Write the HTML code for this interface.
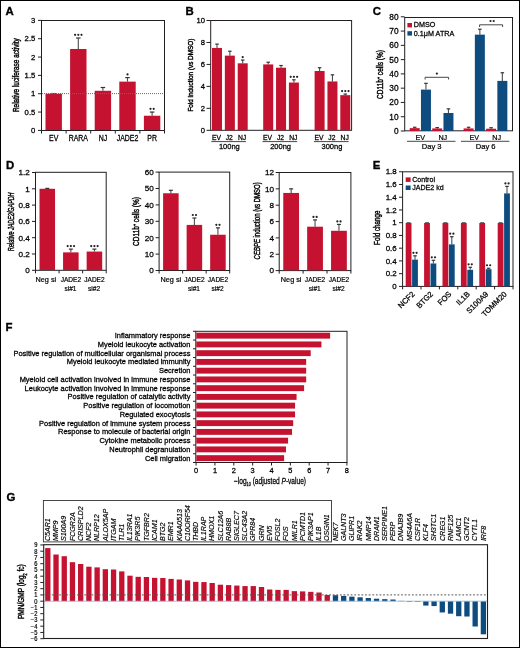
<!DOCTYPE html>
<html><head><meta charset="utf-8"><style>
html,body{margin:0;padding:0;background:#fff;}
svg{display:block;will-change:transform;}
text{font-family:"Liberation Sans",sans-serif;}
</style></head><body>
<svg width="520" height="648" viewBox="0 0 520 648">
<rect x="0" y="0" width="520" height="648" fill="#fff"/>
<text transform="translate(5.6,15)" text-anchor="start" style="font-size:11.4px;font-weight:bold;" fill="#000" stroke="#000" stroke-width="0.35">A</text>
<text transform="translate(185.6,15.1)" text-anchor="start" style="font-size:11.4px;font-weight:bold;" fill="#000" stroke="#000" stroke-width="0.35">B</text>
<text transform="translate(372.8,15)" text-anchor="start" style="font-size:11.4px;font-weight:bold;" fill="#000" stroke="#000" stroke-width="0.35">C</text>
<text transform="translate(5.9,168.7)" text-anchor="start" style="font-size:11.4px;font-weight:bold;" fill="#000" stroke="#000" stroke-width="0.35">D</text>
<text transform="translate(372.8,168.6)" text-anchor="start" style="font-size:11.4px;font-weight:bold;" fill="#000" stroke="#000" stroke-width="0.35">E</text>
<text transform="translate(5.6,330.8)" text-anchor="start" style="font-size:11.4px;font-weight:bold;" fill="#000" stroke="#000" stroke-width="0.35">F</text>
<text transform="translate(6.5,501.2)" text-anchor="start" style="font-size:11.4px;font-weight:bold;" fill="#000" stroke="#000" stroke-width="0.35">G</text>
<line x1="51.2" y1="93.43" x2="56.2" y2="93.43" stroke="#4d4d4d" stroke-width="1" />
<rect x="45.5" y="93.73" width="16.4" height="36.67" fill="#c41230" />
<text transform="translate(53.7,140.6) scale(0.85,1)" text-anchor="middle" style="font-size:8.2px;" fill="#000" stroke="#000" stroke-width="0.26">EV</text>
<line x1="78.3" y1="48.99" x2="78.3" y2="37.99" stroke="#4d4d4d" stroke-width="1.1" />
<line x1="76.05" y1="37.99" x2="80.55" y2="37.99" stroke="#333" stroke-width="1.2" />
<rect x="70.1" y="48.99" width="16.4" height="81.41" fill="#c41230" />
<text transform="translate(78.3,140.6) scale(0.85,1)" text-anchor="middle" style="font-size:8.2px;" fill="#000" stroke="#000" stroke-width="0.26">RARA</text>
<circle cx="75.1" cy="34.79" r="1.1" fill="#231f20"/>
<circle cx="78.3" cy="34.79" r="1.1" fill="#231f20"/>
<circle cx="81.5" cy="34.79" r="1.1" fill="#231f20"/>
<line x1="102.9" y1="90.8" x2="102.9" y2="87.5" stroke="#4d4d4d" stroke-width="1.1" />
<line x1="100.65" y1="87.5" x2="105.15" y2="87.5" stroke="#333" stroke-width="1.2" />
<rect x="94.7" y="90.8" width="16.4" height="39.6" fill="#c41230" />
<text transform="translate(102.9,140.6) scale(0.85,1)" text-anchor="middle" style="font-size:8.2px;" fill="#000" stroke="#000" stroke-width="0.26">NJ</text>
<line x1="127.5" y1="81.63" x2="127.5" y2="77.6" stroke="#4d4d4d" stroke-width="1.1" />
<line x1="125.25" y1="77.6" x2="129.75" y2="77.6" stroke="#333" stroke-width="1.2" />
<rect x="119.3" y="81.63" width="16.4" height="48.77" fill="#c41230" />
<text transform="translate(127.5,140.6) scale(0.85,1)" text-anchor="middle" style="font-size:8.2px;" fill="#000" stroke="#000" stroke-width="0.26">JADE2</text>
<circle cx="127.5" cy="74.4" r="1.1" fill="#231f20"/>
<line x1="152.1" y1="115.73" x2="152.1" y2="112.06" stroke="#4d4d4d" stroke-width="1.1" />
<line x1="149.85" y1="112.06" x2="154.35" y2="112.06" stroke="#333" stroke-width="1.2" />
<rect x="143.9" y="115.73" width="16.4" height="14.67" fill="#c41230" />
<text transform="translate(152.1,140.6) scale(0.85,1)" text-anchor="middle" style="font-size:8.2px;" fill="#000" stroke="#000" stroke-width="0.26">PR</text>
<circle cx="150.5" cy="108.86" r="1.1" fill="#231f20"/>
<circle cx="153.7" cy="108.86" r="1.1" fill="#231f20"/>
<line x1="42" y1="93.6" x2="164" y2="93.6" stroke="#6a6a6a" stroke-width="1" stroke-dasharray="1,1"/>
<rect x="41.5" y="20.5" width="123.0" height="110.0" fill="none" stroke="#231f20" stroke-width="1"/>
<line x1="38" y1="130.4" x2="41.5" y2="130.4" stroke="#231f20" stroke-width="1" />
<text transform="translate(35.3,133.1)" text-anchor="end" style="font-size:7.7px;" fill="#000" stroke="#000" stroke-width="0.26">0</text>
<line x1="38" y1="112.06" x2="41.5" y2="112.06" stroke="#231f20" stroke-width="1" />
<text transform="translate(35.3,114.77)" text-anchor="end" style="font-size:7.7px;" fill="#000" stroke="#000" stroke-width="0.26">0.5</text>
<line x1="38" y1="93.73" x2="41.5" y2="93.73" stroke="#231f20" stroke-width="1" />
<text transform="translate(35.3,96.43)" text-anchor="end" style="font-size:7.7px;" fill="#000" stroke="#000" stroke-width="0.26">1</text>
<line x1="38" y1="75.4" x2="41.5" y2="75.4" stroke="#231f20" stroke-width="1" />
<text transform="translate(35.3,78.1)" text-anchor="end" style="font-size:7.7px;" fill="#000" stroke="#000" stroke-width="0.26">1.5</text>
<line x1="38" y1="57.06" x2="41.5" y2="57.06" stroke="#231f20" stroke-width="1" />
<text transform="translate(35.3,59.76)" text-anchor="end" style="font-size:7.7px;" fill="#000" stroke="#000" stroke-width="0.26">2</text>
<line x1="38" y1="38.72" x2="41.5" y2="38.72" stroke="#231f20" stroke-width="1" />
<text transform="translate(35.3,41.42)" text-anchor="end" style="font-size:7.7px;" fill="#000" stroke="#000" stroke-width="0.26">2.5</text>
<line x1="38" y1="20.39" x2="41.5" y2="20.39" stroke="#231f20" stroke-width="1" />
<text transform="translate(35.3,23.09)" text-anchor="end" style="font-size:7.7px;" fill="#000" stroke="#000" stroke-width="0.26">3</text>
<line x1="41.5" y1="130.5" x2="41.5" y2="133.5" stroke="#231f20" stroke-width="1" />
<line x1="66.1" y1="130.5" x2="66.1" y2="133.5" stroke="#231f20" stroke-width="1" />
<line x1="90.7" y1="130.5" x2="90.7" y2="133.5" stroke="#231f20" stroke-width="1" />
<line x1="115.3" y1="130.5" x2="115.3" y2="133.5" stroke="#231f20" stroke-width="1" />
<line x1="139.9" y1="130.5" x2="139.9" y2="133.5" stroke="#231f20" stroke-width="1" />
<line x1="164.5" y1="130.5" x2="164.5" y2="133.5" stroke="#231f20" stroke-width="1" />
<text transform="translate(18.6,75.15) rotate(-90)" text-anchor="middle" style="font-size:8.2px;" fill="#000" textLength="73.8" lengthAdjust="spacingAndGlyphs" stroke="#000" stroke-width="0.42">Relative luciferase activity</text>
<rect x="210.7" y="20.5" width="140.9" height="109.8" fill="none" stroke="#231f20" stroke-width="1"/>
<line x1="217" y1="47.95" x2="217" y2="44.11" stroke="#4d4d4d" stroke-width="1.1" />
<line x1="215.25" y1="44.11" x2="218.75" y2="44.11" stroke="#333" stroke-width="1.2" />
<rect x="212" y="47.95" width="10" height="82.35" fill="#c41230" />
<line x1="229.85" y1="55.64" x2="229.85" y2="51.24" stroke="#4d4d4d" stroke-width="1.1" />
<line x1="228.1" y1="51.24" x2="231.6" y2="51.24" stroke="#333" stroke-width="1.2" />
<rect x="224.85" y="55.64" width="10" height="74.66" fill="#c41230" />
<line x1="242.7" y1="63.32" x2="242.7" y2="60.03" stroke="#4d4d4d" stroke-width="1.1" />
<line x1="240.95" y1="60.03" x2="244.45" y2="60.03" stroke="#333" stroke-width="1.2" />
<rect x="237.7" y="63.32" width="10" height="66.98" fill="#c41230" />
<circle cx="242.7" cy="57.03" r="1.1" fill="#231f20"/>
<text transform="translate(216.4,140.1) scale(0.95,1)" text-anchor="middle" style="font-size:7.1px;" fill="#000" stroke="#000" stroke-width="0.26">EV</text>
<text transform="translate(229.25,140.1) scale(0.95,1)" text-anchor="middle" style="font-size:7.1px;" fill="#000" stroke="#000" stroke-width="0.26">J2</text>
<text transform="translate(242.1,140.1) scale(0.95,1)" text-anchor="middle" style="font-size:7.1px;" fill="#000" stroke="#000" stroke-width="0.26">NJ</text>
<line x1="211.3" y1="141.6" x2="246" y2="141.6" stroke="#333" stroke-width="0.9" />
<text transform="translate(229.35,148.8)" text-anchor="middle" style="font-size:7.5px;" fill="#000" stroke="#000" stroke-width="0.26">100ng</text>
<line x1="268.2" y1="64.42" x2="268.2" y2="62.22" stroke="#4d4d4d" stroke-width="1.1" />
<line x1="266.45" y1="62.22" x2="269.95" y2="62.22" stroke="#333" stroke-width="1.2" />
<rect x="263.2" y="64.42" width="10" height="65.88" fill="#c41230" />
<line x1="281.05" y1="67.71" x2="281.05" y2="65.52" stroke="#4d4d4d" stroke-width="1.1" />
<line x1="279.3" y1="65.52" x2="282.8" y2="65.52" stroke="#333" stroke-width="1.2" />
<rect x="276.05" y="67.71" width="10" height="62.59" fill="#c41230" />
<line x1="293.9" y1="82.54" x2="293.9" y2="79.79" stroke="#4d4d4d" stroke-width="1.1" />
<line x1="292.15" y1="79.79" x2="295.65" y2="79.79" stroke="#333" stroke-width="1.2" />
<rect x="288.9" y="82.54" width="10" height="47.76" fill="#c41230" />
<circle cx="290.7" cy="76.79" r="1.1" fill="#231f20"/>
<circle cx="293.9" cy="76.79" r="1.1" fill="#231f20"/>
<circle cx="297.1" cy="76.79" r="1.1" fill="#231f20"/>
<text transform="translate(267.6,140.1) scale(0.95,1)" text-anchor="middle" style="font-size:7.1px;" fill="#000" stroke="#000" stroke-width="0.26">EV</text>
<text transform="translate(280.45,140.1) scale(0.95,1)" text-anchor="middle" style="font-size:7.1px;" fill="#000" stroke="#000" stroke-width="0.26">J2</text>
<text transform="translate(293.3,140.1) scale(0.95,1)" text-anchor="middle" style="font-size:7.1px;" fill="#000" stroke="#000" stroke-width="0.26">NJ</text>
<line x1="262.5" y1="141.6" x2="297.2" y2="141.6" stroke="#333" stroke-width="0.9" />
<text transform="translate(280.55,148.8)" text-anchor="middle" style="font-size:7.5px;" fill="#000" stroke="#000" stroke-width="0.26">200ng</text>
<line x1="319.6" y1="71.01" x2="319.6" y2="67.71" stroke="#4d4d4d" stroke-width="1.1" />
<line x1="317.85" y1="67.71" x2="321.35" y2="67.71" stroke="#333" stroke-width="1.2" />
<rect x="314.6" y="71.01" width="10" height="59.29" fill="#c41230" />
<line x1="332.45" y1="81.44" x2="332.45" y2="74.85" stroke="#4d4d4d" stroke-width="1.1" />
<line x1="330.7" y1="74.85" x2="334.2" y2="74.85" stroke="#333" stroke-width="1.2" />
<rect x="327.45" y="81.44" width="10" height="48.86" fill="#c41230" />
<line x1="345.3" y1="95.16" x2="345.3" y2="94.07" stroke="#4d4d4d" stroke-width="1.1" />
<line x1="343.55" y1="94.07" x2="347.05" y2="94.07" stroke="#333" stroke-width="1.2" />
<rect x="340.3" y="95.16" width="10" height="35.14" fill="#c41230" />
<circle cx="342.1" cy="91.07" r="1.1" fill="#231f20"/>
<circle cx="345.3" cy="91.07" r="1.1" fill="#231f20"/>
<circle cx="348.5" cy="91.07" r="1.1" fill="#231f20"/>
<text transform="translate(319,140.1) scale(0.95,1)" text-anchor="middle" style="font-size:7.1px;" fill="#000" stroke="#000" stroke-width="0.26">EV</text>
<text transform="translate(331.85,140.1) scale(0.95,1)" text-anchor="middle" style="font-size:7.1px;" fill="#000" stroke="#000" stroke-width="0.26">J2</text>
<text transform="translate(344.7,140.1) scale(0.95,1)" text-anchor="middle" style="font-size:7.1px;" fill="#000" stroke="#000" stroke-width="0.26">NJ</text>
<line x1="313.9" y1="141.6" x2="348.6" y2="141.6" stroke="#333" stroke-width="0.9" />
<text transform="translate(331.95,148.8)" text-anchor="middle" style="font-size:7.5px;" fill="#000" stroke="#000" stroke-width="0.26">300ng</text>
<line x1="206.5" y1="130.3" x2="210.7" y2="130.3" stroke="#231f20" stroke-width="1" />
<text transform="translate(204.9,132.95)" text-anchor="end" style="font-size:7.6px;" fill="#000" stroke="#000" stroke-width="0.26">0</text>
<line x1="206.5" y1="108.34" x2="210.7" y2="108.34" stroke="#231f20" stroke-width="1" />
<text transform="translate(204.9,110.99)" text-anchor="end" style="font-size:7.6px;" fill="#000" stroke="#000" stroke-width="0.26">2</text>
<line x1="206.5" y1="86.38" x2="210.7" y2="86.38" stroke="#231f20" stroke-width="1" />
<text transform="translate(204.9,89.03)" text-anchor="end" style="font-size:7.6px;" fill="#000" stroke="#000" stroke-width="0.26">4</text>
<line x1="206.5" y1="64.42" x2="210.7" y2="64.42" stroke="#231f20" stroke-width="1" />
<text transform="translate(204.9,67.07)" text-anchor="end" style="font-size:7.6px;" fill="#000" stroke="#000" stroke-width="0.26">6</text>
<line x1="206.5" y1="42.46" x2="210.7" y2="42.46" stroke="#231f20" stroke-width="1" />
<text transform="translate(204.9,45.11)" text-anchor="end" style="font-size:7.6px;" fill="#000" stroke="#000" stroke-width="0.26">8</text>
<line x1="206.5" y1="20.5" x2="210.7" y2="20.5" stroke="#231f20" stroke-width="1" />
<text transform="translate(204.9,23.15)" text-anchor="end" style="font-size:7.6px;" fill="#000" stroke="#000" stroke-width="0.26">10</text>
<text transform="translate(192.9,75.15) rotate(-90)" text-anchor="middle" style="font-size:7.8px;" fill="#000" textLength="72.9" lengthAdjust="spacingAndGlyphs" stroke="#000" stroke-width="0.42">Fold induction (vs DMSO)</text>
<rect x="404.7" y="17.5" width="107.8" height="113.3" fill="none" stroke="#231f20" stroke-width="1"/>
<line x1="414.7" y1="128.15" x2="414.7" y2="127.29" stroke="#4d4d4d" stroke-width="1.1" />
<line x1="412.95" y1="127.29" x2="416.45" y2="127.29" stroke="#333" stroke-width="1.2" />
<rect x="409.7" y="128.15" width="10" height="2.85" fill="#c41230" />
<line x1="425.95" y1="89.6" x2="425.95" y2="83.32" stroke="#4d4d4d" stroke-width="1.1" />
<line x1="424.2" y1="83.32" x2="427.7" y2="83.32" stroke="#333" stroke-width="1.2" />
<rect x="420.95" y="89.6" width="10" height="41.4" fill="#0e4c80" />
<line x1="437.2" y1="128.43" x2="437.2" y2="127.57" stroke="#4d4d4d" stroke-width="1.1" />
<line x1="435.45" y1="127.57" x2="438.95" y2="127.57" stroke="#333" stroke-width="1.2" />
<rect x="432.2" y="128.43" width="10" height="2.57" fill="#c41230" />
<line x1="448.45" y1="113.01" x2="448.45" y2="108.87" stroke="#4d4d4d" stroke-width="1.1" />
<line x1="446.7" y1="108.87" x2="450.2" y2="108.87" stroke="#333" stroke-width="1.2" />
<rect x="443.45" y="113.01" width="10" height="17.99" fill="#0e4c80" />
<text transform="translate(420.3,139.8) scale(0.95,1)" text-anchor="middle" style="font-size:7.6px;" fill="#000" stroke="#000" stroke-width="0.22">EV</text>
<text transform="translate(442.8,139.8) scale(0.95,1)" text-anchor="middle" style="font-size:7.6px;" fill="#000" stroke="#000" stroke-width="0.22">NJ</text>
<line x1="407" y1="141.3" x2="455.5" y2="141.3" stroke="#333" stroke-width="0.9" />
<text transform="translate(431.7,148.5) scale(0.96,1)" text-anchor="middle" style="font-size:7.9px;" fill="#000" stroke="#000" stroke-width="0.22">Day 3</text>
<line x1="468.6" y1="128.43" x2="468.6" y2="127.29" stroke="#4d4d4d" stroke-width="1.1" />
<line x1="466.85" y1="127.29" x2="470.35" y2="127.29" stroke="#333" stroke-width="1.2" />
<rect x="463.6" y="128.43" width="10" height="2.57" fill="#c41230" />
<line x1="479.85" y1="34.64" x2="479.85" y2="29.22" stroke="#4d4d4d" stroke-width="1.1" />
<line x1="478.1" y1="29.22" x2="481.6" y2="29.22" stroke="#333" stroke-width="1.2" />
<rect x="474.85" y="34.64" width="10" height="96.36" fill="#0e4c80" />
<line x1="491.1" y1="128.72" x2="491.1" y2="127.72" stroke="#4d4d4d" stroke-width="1.1" />
<line x1="489.35" y1="127.72" x2="492.85" y2="127.72" stroke="#333" stroke-width="1.2" />
<rect x="486.1" y="128.72" width="10" height="2.28" fill="#c41230" />
<line x1="502.35" y1="80.89" x2="502.35" y2="72.76" stroke="#4d4d4d" stroke-width="1.1" />
<line x1="500.6" y1="72.76" x2="504.1" y2="72.76" stroke="#333" stroke-width="1.2" />
<rect x="497.35" y="80.89" width="10" height="50.11" fill="#0e4c80" />
<text transform="translate(474.2,139.8) scale(0.95,1)" text-anchor="middle" style="font-size:7.6px;" fill="#000" stroke="#000" stroke-width="0.22">EV</text>
<text transform="translate(496.7,139.8) scale(0.95,1)" text-anchor="middle" style="font-size:7.6px;" fill="#000" stroke="#000" stroke-width="0.22">NJ</text>
<line x1="460.9" y1="141.3" x2="509.4" y2="141.3" stroke="#333" stroke-width="0.9" />
<text transform="translate(485.6,148.5) scale(0.96,1)" text-anchor="middle" style="font-size:7.9px;" fill="#000" stroke="#000" stroke-width="0.22">Day 6</text>
<path d="M425.1,79.5 L425.1,77.3 L448.6,77.3 L448.6,79.5" fill="none" stroke="#333" stroke-width="0.9"/>
<circle cx="436.85" cy="73.6" r="1.1" fill="#231f20"/>
<path d="M479.6,27 L479.6,24.8 L502.6,24.8 L502.6,27" fill="none" stroke="#333" stroke-width="0.9"/>
<circle cx="490.5" cy="21" r="1.1" fill="#231f20"/>
<circle cx="493.7" cy="21" r="1.1" fill="#231f20"/>
<line x1="400.8" y1="131" x2="404.7" y2="131" stroke="#231f20" stroke-width="1" />
<text transform="translate(398.6,133.9)" text-anchor="end" style="font-size:8.3px;" fill="#000" stroke="#000" stroke-width="0.26">0</text>
<line x1="400.8" y1="116.72" x2="404.7" y2="116.72" stroke="#231f20" stroke-width="1" />
<text transform="translate(398.6,119.62)" text-anchor="end" style="font-size:8.3px;" fill="#000" stroke="#000" stroke-width="0.26">10</text>
<line x1="400.8" y1="102.45" x2="404.7" y2="102.45" stroke="#231f20" stroke-width="1" />
<text transform="translate(398.6,105.35)" text-anchor="end" style="font-size:8.3px;" fill="#000" stroke="#000" stroke-width="0.26">20</text>
<line x1="400.8" y1="88.17" x2="404.7" y2="88.17" stroke="#231f20" stroke-width="1" />
<text transform="translate(398.6,91.08)" text-anchor="end" style="font-size:8.3px;" fill="#000" stroke="#000" stroke-width="0.26">30</text>
<line x1="400.8" y1="73.9" x2="404.7" y2="73.9" stroke="#231f20" stroke-width="1" />
<text transform="translate(398.6,76.8)" text-anchor="end" style="font-size:8.3px;" fill="#000" stroke="#000" stroke-width="0.26">40</text>
<line x1="400.8" y1="59.62" x2="404.7" y2="59.62" stroke="#231f20" stroke-width="1" />
<text transform="translate(398.6,62.52)" text-anchor="end" style="font-size:8.3px;" fill="#000" stroke="#000" stroke-width="0.26">50</text>
<line x1="400.8" y1="45.35" x2="404.7" y2="45.35" stroke="#231f20" stroke-width="1" />
<text transform="translate(398.6,48.25)" text-anchor="end" style="font-size:8.3px;" fill="#000" stroke="#000" stroke-width="0.26">60</text>
<line x1="400.8" y1="31.08" x2="404.7" y2="31.08" stroke="#231f20" stroke-width="1" />
<text transform="translate(398.6,33.98)" text-anchor="end" style="font-size:8.3px;" fill="#000" stroke="#000" stroke-width="0.26">70</text>
<line x1="400.8" y1="16.8" x2="404.7" y2="16.8" stroke="#231f20" stroke-width="1" />
<text transform="translate(398.6,19.7)" text-anchor="end" style="font-size:8.3px;" fill="#000" stroke="#000" stroke-width="0.26">80</text>
<rect x="407.4" y="23" width="4.6" height="4.4" fill="#c41230" />
<rect x="407.4" y="31.2" width="4.6" height="4.4" fill="#0e4c80" />
<text transform="translate(413.8,27.4) scale(0.95,1)" text-anchor="start" style="font-size:7.6px;" fill="#000" stroke="#000" stroke-width="0.26">DMSO</text>
<text transform="translate(413.8,35.5) scale(0.95,1)" text-anchor="start" style="font-size:7.6px;" fill="#000" stroke="#000" stroke-width="0.26">0.1μM ATRA</text>
<text transform="translate(383.4,74.5) rotate(-90)" text-anchor="middle" style="font-size:9px;" fill="#000" textLength="48.8" lengthAdjust="spacingAndGlyphs" stroke="#000" stroke-width="0.42">CD11b<tspan baseline-shift="super" font-size="5">+</tspan> cells (%)</text>
<rect x="35.5" y="172.3" width="70.7" height="98" fill="none" stroke="#231f20" stroke-width="1"/>
<line x1="47.28" y1="188.8" x2="47.28" y2="188.39" stroke="#4d4d4d" stroke-width="1.1" />
<line x1="45.28" y1="188.39" x2="49.28" y2="188.39" stroke="#333" stroke-width="1.2" />
<rect x="39.51" y="188.8" width="15.55" height="81.2" fill="#c41230" />
<line x1="70.85" y1="252.37" x2="70.85" y2="249.11" stroke="#4d4d4d" stroke-width="1.1" />
<line x1="68.85" y1="249.11" x2="72.85" y2="249.11" stroke="#333" stroke-width="1.2" />
<rect x="63.07" y="252.37" width="15.55" height="17.63" fill="#c41230" />
<circle cx="67.65" cy="246.11" r="1.1" fill="#231f20"/>
<circle cx="70.85" cy="246.11" r="1.1" fill="#231f20"/>
<circle cx="74.05" cy="246.11" r="1.1" fill="#231f20"/>
<line x1="94.42" y1="251.56" x2="94.42" y2="249.11" stroke="#4d4d4d" stroke-width="1.1" />
<line x1="92.42" y1="249.11" x2="96.42" y2="249.11" stroke="#333" stroke-width="1.2" />
<rect x="86.64" y="251.56" width="15.55" height="18.45" fill="#c41230" />
<circle cx="91.22" cy="246.11" r="1.1" fill="#231f20"/>
<circle cx="94.42" cy="246.11" r="1.1" fill="#231f20"/>
<circle cx="97.62" cy="246.11" r="1.1" fill="#231f20"/>
<line x1="32" y1="270.3" x2="35.5" y2="270.3" stroke="#231f20" stroke-width="1" />
<text transform="translate(29.8,273.15)" text-anchor="end" style="font-size:8.1px;" fill="#000" stroke="#000" stroke-width="0.26">0</text>
<line x1="32" y1="254" x2="35.5" y2="254" stroke="#231f20" stroke-width="1" />
<text transform="translate(29.8,256.85)" text-anchor="end" style="font-size:8.1px;" fill="#000" stroke="#000" stroke-width="0.26">0.2</text>
<line x1="32" y1="237.7" x2="35.5" y2="237.7" stroke="#231f20" stroke-width="1" />
<text transform="translate(29.8,240.55)" text-anchor="end" style="font-size:8.1px;" fill="#000" stroke="#000" stroke-width="0.26">0.4</text>
<line x1="32" y1="221.4" x2="35.5" y2="221.4" stroke="#231f20" stroke-width="1" />
<text transform="translate(29.8,224.25)" text-anchor="end" style="font-size:8.1px;" fill="#000" stroke="#000" stroke-width="0.26">0.6</text>
<line x1="32" y1="205.1" x2="35.5" y2="205.1" stroke="#231f20" stroke-width="1" />
<text transform="translate(29.8,207.95)" text-anchor="end" style="font-size:8.1px;" fill="#000" stroke="#000" stroke-width="0.26">0.8</text>
<line x1="32" y1="188.8" x2="35.5" y2="188.8" stroke="#231f20" stroke-width="1" />
<text transform="translate(29.8,191.65)" text-anchor="end" style="font-size:8.1px;" fill="#000" stroke="#000" stroke-width="0.26">1</text>
<line x1="32" y1="172.5" x2="35.5" y2="172.5" stroke="#231f20" stroke-width="1" />
<text transform="translate(29.8,175.35)" text-anchor="end" style="font-size:8.1px;" fill="#000" stroke="#000" stroke-width="0.26">1.2</text>
<line x1="35.5" y1="270.3" x2="35.5" y2="273.3" stroke="#231f20" stroke-width="1" />
<line x1="59.07" y1="270.3" x2="59.07" y2="273.3" stroke="#231f20" stroke-width="1" />
<line x1="82.63" y1="270.3" x2="82.63" y2="273.3" stroke="#231f20" stroke-width="1" />
<line x1="106.2" y1="270.3" x2="106.2" y2="273.3" stroke="#231f20" stroke-width="1" />
<text transform="translate(45.88,282)" text-anchor="middle" style="font-size:6.9px;" fill="#000" textLength="20.6" lengthAdjust="spacingAndGlyphs" stroke="#000" stroke-width="0.2">Neg si</text>
<text transform="translate(70.85,282) scale(0.95,1)" text-anchor="middle" style="font-size:6.9px;" fill="#000" stroke="#000" stroke-width="0.2">JADE2</text>
<text transform="translate(70.45,290.7) scale(0.95,1)" text-anchor="middle" style="font-size:6.9px;" fill="#000" stroke="#000" stroke-width="0.2">si#1</text>
<text transform="translate(94.42,282) scale(0.95,1)" text-anchor="middle" style="font-size:6.9px;" fill="#000" stroke="#000" stroke-width="0.2">JADE2</text>
<text transform="translate(94.02,290.7) scale(0.95,1)" text-anchor="middle" style="font-size:6.9px;" fill="#000" stroke="#000" stroke-width="0.2">si#2</text>
<text transform="translate(13.7,221.7) rotate(-90)" text-anchor="middle" style="font-size:8.8px;" fill="#000" textLength="58.4" lengthAdjust="spacingAndGlyphs" stroke="#000" stroke-width="0.42">Relative <tspan font-style="italic">JADE2/GAPDH</tspan></text>
<rect x="159.1" y="172.1" width="70.6" height="98.4" fill="none" stroke="#231f20" stroke-width="1"/>
<line x1="170.87" y1="193.26" x2="170.87" y2="190.3" stroke="#4d4d4d" stroke-width="1.1" />
<line x1="168.87" y1="190.3" x2="172.87" y2="190.3" stroke="#333" stroke-width="1.2" />
<rect x="163.1" y="193.26" width="15.53" height="76.94" fill="#c41230" />
<line x1="194.4" y1="224.91" x2="194.4" y2="218.02" stroke="#4d4d4d" stroke-width="1.1" />
<line x1="192.4" y1="218.02" x2="196.4" y2="218.02" stroke="#333" stroke-width="1.2" />
<rect x="186.63" y="224.91" width="15.53" height="45.29" fill="#c41230" />
<circle cx="192.8" cy="215.02" r="1.1" fill="#231f20"/>
<circle cx="196" cy="215.02" r="1.1" fill="#231f20"/>
<line x1="217.93" y1="234.75" x2="217.93" y2="227.86" stroke="#4d4d4d" stroke-width="1.1" />
<line x1="215.93" y1="227.86" x2="219.93" y2="227.86" stroke="#333" stroke-width="1.2" />
<rect x="210.17" y="234.75" width="15.53" height="35.45" fill="#c41230" />
<circle cx="216.33" cy="224.86" r="1.1" fill="#231f20"/>
<circle cx="219.53" cy="224.86" r="1.1" fill="#231f20"/>
<line x1="155.6" y1="270.5" x2="159.1" y2="270.5" stroke="#231f20" stroke-width="1" />
<text transform="translate(153.7,273.35)" text-anchor="end" style="font-size:8.1px;" fill="#000" stroke="#000" stroke-width="0.26">0</text>
<line x1="155.6" y1="254.1" x2="159.1" y2="254.1" stroke="#231f20" stroke-width="1" />
<text transform="translate(153.7,256.95)" text-anchor="end" style="font-size:8.1px;" fill="#000" stroke="#000" stroke-width="0.26">10</text>
<line x1="155.6" y1="237.7" x2="159.1" y2="237.7" stroke="#231f20" stroke-width="1" />
<text transform="translate(153.7,240.55)" text-anchor="end" style="font-size:8.1px;" fill="#000" stroke="#000" stroke-width="0.26">20</text>
<line x1="155.6" y1="221.3" x2="159.1" y2="221.3" stroke="#231f20" stroke-width="1" />
<text transform="translate(153.7,224.15)" text-anchor="end" style="font-size:8.1px;" fill="#000" stroke="#000" stroke-width="0.26">30</text>
<line x1="155.6" y1="204.9" x2="159.1" y2="204.9" stroke="#231f20" stroke-width="1" />
<text transform="translate(153.7,207.75)" text-anchor="end" style="font-size:8.1px;" fill="#000" stroke="#000" stroke-width="0.26">40</text>
<line x1="155.6" y1="188.5" x2="159.1" y2="188.5" stroke="#231f20" stroke-width="1" />
<text transform="translate(153.7,191.35)" text-anchor="end" style="font-size:8.1px;" fill="#000" stroke="#000" stroke-width="0.26">50</text>
<line x1="155.6" y1="172.1" x2="159.1" y2="172.1" stroke="#231f20" stroke-width="1" />
<text transform="translate(153.7,174.95)" text-anchor="end" style="font-size:8.1px;" fill="#000" stroke="#000" stroke-width="0.26">60</text>
<line x1="159.1" y1="270.5" x2="159.1" y2="273.5" stroke="#231f20" stroke-width="1" />
<line x1="182.63" y1="270.5" x2="182.63" y2="273.5" stroke="#231f20" stroke-width="1" />
<line x1="206.17" y1="270.5" x2="206.17" y2="273.5" stroke="#231f20" stroke-width="1" />
<line x1="229.7" y1="270.5" x2="229.7" y2="273.5" stroke="#231f20" stroke-width="1" />
<text transform="translate(170.87,282)" text-anchor="middle" style="font-size:6.9px;" fill="#000" textLength="20.6" lengthAdjust="spacingAndGlyphs" stroke="#000" stroke-width="0.2">Neg si</text>
<text transform="translate(194.4,282) scale(0.95,1)" text-anchor="middle" style="font-size:6.9px;" fill="#000" stroke="#000" stroke-width="0.2">JADE2</text>
<text transform="translate(194,290.7) scale(0.95,1)" text-anchor="middle" style="font-size:6.9px;" fill="#000" stroke="#000" stroke-width="0.2">si#1</text>
<text transform="translate(217.93,282) scale(0.95,1)" text-anchor="middle" style="font-size:6.9px;" fill="#000" stroke="#000" stroke-width="0.2">JADE2</text>
<text transform="translate(217.53,290.7) scale(0.95,1)" text-anchor="middle" style="font-size:6.9px;" fill="#000" stroke="#000" stroke-width="0.2">si#2</text>
<text transform="translate(138.9,221.5) rotate(-90)" text-anchor="middle" style="font-size:9px;" fill="#000" textLength="48.8" lengthAdjust="spacingAndGlyphs" stroke="#000" stroke-width="0.42">CD11b<tspan baseline-shift="super" font-size="5">+</tspan> cells (%)</text>
<rect x="279.2" y="172.5" width="71.7" height="98.1" fill="none" stroke="#231f20" stroke-width="1"/>
<line x1="291.15" y1="192.94" x2="291.15" y2="188.85" stroke="#4d4d4d" stroke-width="1.1" />
<line x1="289.15" y1="188.85" x2="293.15" y2="188.85" stroke="#333" stroke-width="1.2" />
<rect x="283.26" y="192.94" width="15.77" height="77.36" fill="#c41230" />
<line x1="315.05" y1="226.7" x2="315.05" y2="219.92" stroke="#4d4d4d" stroke-width="1.1" />
<line x1="313.05" y1="219.92" x2="317.05" y2="219.92" stroke="#333" stroke-width="1.2" />
<rect x="307.16" y="226.7" width="15.77" height="43.6" fill="#c41230" />
<circle cx="313.45" cy="216.92" r="1.1" fill="#231f20"/>
<circle cx="316.65" cy="216.92" r="1.1" fill="#231f20"/>
<line x1="338.95" y1="230.79" x2="338.95" y2="224.41" stroke="#4d4d4d" stroke-width="1.1" />
<line x1="336.95" y1="224.41" x2="340.95" y2="224.41" stroke="#333" stroke-width="1.2" />
<rect x="331.06" y="230.79" width="15.77" height="39.51" fill="#c41230" />
<circle cx="337.35" cy="221.41" r="1.1" fill="#231f20"/>
<circle cx="340.55" cy="221.41" r="1.1" fill="#231f20"/>
<line x1="275.7" y1="270.6" x2="279.2" y2="270.6" stroke="#231f20" stroke-width="1" />
<text transform="translate(274,273.45)" text-anchor="end" style="font-size:8.1px;" fill="#000" stroke="#000" stroke-width="0.26">0</text>
<line x1="275.7" y1="254.25" x2="279.2" y2="254.25" stroke="#231f20" stroke-width="1" />
<text transform="translate(274,257.1)" text-anchor="end" style="font-size:8.1px;" fill="#000" stroke="#000" stroke-width="0.26">2</text>
<line x1="275.7" y1="237.9" x2="279.2" y2="237.9" stroke="#231f20" stroke-width="1" />
<text transform="translate(274,240.75)" text-anchor="end" style="font-size:8.1px;" fill="#000" stroke="#000" stroke-width="0.26">4</text>
<line x1="275.7" y1="221.55" x2="279.2" y2="221.55" stroke="#231f20" stroke-width="1" />
<text transform="translate(274,224.4)" text-anchor="end" style="font-size:8.1px;" fill="#000" stroke="#000" stroke-width="0.26">6</text>
<line x1="275.7" y1="205.2" x2="279.2" y2="205.2" stroke="#231f20" stroke-width="1" />
<text transform="translate(274,208.05)" text-anchor="end" style="font-size:8.1px;" fill="#000" stroke="#000" stroke-width="0.26">8</text>
<line x1="275.7" y1="188.85" x2="279.2" y2="188.85" stroke="#231f20" stroke-width="1" />
<text transform="translate(274,191.7)" text-anchor="end" style="font-size:8.1px;" fill="#000" stroke="#000" stroke-width="0.26">10</text>
<line x1="275.7" y1="172.5" x2="279.2" y2="172.5" stroke="#231f20" stroke-width="1" />
<text transform="translate(274,175.35)" text-anchor="end" style="font-size:8.1px;" fill="#000" stroke="#000" stroke-width="0.26">12</text>
<line x1="279.2" y1="270.6" x2="279.2" y2="273.6" stroke="#231f20" stroke-width="1" />
<line x1="303.1" y1="270.6" x2="303.1" y2="273.6" stroke="#231f20" stroke-width="1" />
<line x1="327" y1="270.6" x2="327" y2="273.6" stroke="#231f20" stroke-width="1" />
<line x1="350.9" y1="270.6" x2="350.9" y2="273.6" stroke="#231f20" stroke-width="1" />
<text transform="translate(291.15,282)" text-anchor="middle" style="font-size:6.9px;" fill="#000" textLength="20.6" lengthAdjust="spacingAndGlyphs" stroke="#000" stroke-width="0.2">Neg si</text>
<text transform="translate(315.05,282) scale(0.95,1)" text-anchor="middle" style="font-size:6.9px;" fill="#000" stroke="#000" stroke-width="0.2">JADE2</text>
<text transform="translate(314.65,290.7) scale(0.95,1)" text-anchor="middle" style="font-size:6.9px;" fill="#000" stroke="#000" stroke-width="0.2">si#1</text>
<text transform="translate(338.95,282) scale(0.95,1)" text-anchor="middle" style="font-size:6.9px;" fill="#000" stroke="#000" stroke-width="0.2">JADE2</text>
<text transform="translate(338.55,290.7) scale(0.95,1)" text-anchor="middle" style="font-size:6.9px;" fill="#000" stroke="#000" stroke-width="0.2">si#2</text>
<text transform="translate(260.2,220.85) rotate(-90)" text-anchor="middle" style="font-size:8.2px;" fill="#000" textLength="77.1" lengthAdjust="spacingAndGlyphs" stroke="#000" stroke-width="0.42"><tspan font-style="italic">CEBPE</tspan> induction (vs DMSO)</text>
<rect x="402.6" y="171.8" width="110.4" height="114.6" fill="none" stroke="#231f20" stroke-width="1"/>
<line x1="406.6" y1="222.7" x2="410.6" y2="222.7" stroke="#4d4d4d" stroke-width="1" />
<rect x="405.7" y="223" width="5.8" height="63.4" fill="#c41230" />
<line x1="415" y1="259.65" x2="415" y2="255.82" stroke="#4d4d4d" stroke-width="1.1" />
<line x1="413.25" y1="255.82" x2="416.75" y2="255.82" stroke="#333" stroke-width="1.2" />
<rect x="412.1" y="259.65" width="5.8" height="26.75" fill="#0e4c80" />
<circle cx="413.4" cy="252.82" r="1.1" fill="#231f20"/>
<circle cx="416.6" cy="252.82" r="1.1" fill="#231f20"/>
<text transform="translate(415.2,294.6) rotate(-45)" text-anchor="end" style="font-size:7.7px;" fill="#000" stroke="#000" stroke-width="0.26">NCF2</text>
<line x1="425" y1="222.7" x2="429" y2="222.7" stroke="#4d4d4d" stroke-width="1" />
<rect x="424.1" y="223" width="5.8" height="63.4" fill="#c41230" />
<line x1="433.4" y1="263.47" x2="433.4" y2="260.28" stroke="#4d4d4d" stroke-width="1.1" />
<line x1="431.65" y1="260.28" x2="435.15" y2="260.28" stroke="#333" stroke-width="1.2" />
<rect x="430.5" y="263.47" width="5.8" height="22.93" fill="#0e4c80" />
<circle cx="431.8" cy="257.28" r="1.1" fill="#231f20"/>
<circle cx="435" cy="257.28" r="1.1" fill="#231f20"/>
<text transform="translate(433.6,294.6) rotate(-45)" text-anchor="end" style="font-size:7.7px;" fill="#000" stroke="#000" stroke-width="0.26">BTG2</text>
<line x1="443.4" y1="222.7" x2="447.4" y2="222.7" stroke="#4d4d4d" stroke-width="1" />
<rect x="442.5" y="223" width="5.8" height="63.4" fill="#c41230" />
<line x1="451.8" y1="244.36" x2="451.8" y2="236.71" stroke="#4d4d4d" stroke-width="1.1" />
<line x1="450.05" y1="236.71" x2="453.55" y2="236.71" stroke="#333" stroke-width="1.2" />
<rect x="448.9" y="244.36" width="5.8" height="42.04" fill="#0e4c80" />
<circle cx="450.2" cy="233.71" r="1.1" fill="#231f20"/>
<circle cx="453.4" cy="233.71" r="1.1" fill="#231f20"/>
<text transform="translate(452,294.6) rotate(-45)" text-anchor="end" style="font-size:7.7px;" fill="#000" stroke="#000" stroke-width="0.26">FOS</text>
<line x1="461.8" y1="222.7" x2="465.8" y2="222.7" stroke="#4d4d4d" stroke-width="1" />
<rect x="460.9" y="223" width="5.8" height="63.4" fill="#c41230" />
<line x1="470.2" y1="269.84" x2="470.2" y2="267.29" stroke="#4d4d4d" stroke-width="1.1" />
<line x1="468.45" y1="267.29" x2="471.95" y2="267.29" stroke="#333" stroke-width="1.2" />
<rect x="467.3" y="269.84" width="5.8" height="16.56" fill="#0e4c80" />
<circle cx="468.6" cy="264.29" r="1.1" fill="#231f20"/>
<circle cx="471.8" cy="264.29" r="1.1" fill="#231f20"/>
<text transform="translate(470.4,294.6) rotate(-45)" text-anchor="end" style="font-size:7.7px;" fill="#000" stroke="#000" stroke-width="0.26">IL1B</text>
<line x1="480.2" y1="222.7" x2="484.2" y2="222.7" stroke="#4d4d4d" stroke-width="1" />
<rect x="479.3" y="223" width="5.8" height="63.4" fill="#c41230" />
<line x1="488.6" y1="269.2" x2="488.6" y2="268.25" stroke="#4d4d4d" stroke-width="1.1" />
<line x1="486.85" y1="268.25" x2="490.35" y2="268.25" stroke="#333" stroke-width="1.2" />
<rect x="485.7" y="269.2" width="5.8" height="17.2" fill="#0e4c80" />
<circle cx="487" cy="265.25" r="1.1" fill="#231f20"/>
<circle cx="490.2" cy="265.25" r="1.1" fill="#231f20"/>
<text transform="translate(488.8,294.6) rotate(-45)" text-anchor="end" style="font-size:7.7px;" fill="#000" stroke="#000" stroke-width="0.26">S100A9</text>
<line x1="498.6" y1="222.7" x2="502.6" y2="222.7" stroke="#4d4d4d" stroke-width="1" />
<rect x="497.7" y="223" width="5.8" height="63.4" fill="#c41230" />
<line x1="507" y1="193.4" x2="507" y2="186.39" stroke="#4d4d4d" stroke-width="1.1" />
<line x1="505.25" y1="186.39" x2="508.75" y2="186.39" stroke="#333" stroke-width="1.2" />
<rect x="504.1" y="193.4" width="5.8" height="93" fill="#0e4c80" />
<circle cx="505.4" cy="183.39" r="1.1" fill="#231f20"/>
<circle cx="508.6" cy="183.39" r="1.1" fill="#231f20"/>
<text transform="translate(507.2,294.6) rotate(-45)" text-anchor="end" style="font-size:7.7px;" fill="#000" stroke="#000" stroke-width="0.26">TOMM20</text>
<line x1="402.6" y1="286.4" x2="402.6" y2="289.4" stroke="#231f20" stroke-width="1" />
<line x1="421" y1="286.4" x2="421" y2="289.4" stroke="#231f20" stroke-width="1" />
<line x1="439.4" y1="286.4" x2="439.4" y2="289.4" stroke="#231f20" stroke-width="1" />
<line x1="457.8" y1="286.4" x2="457.8" y2="289.4" stroke="#231f20" stroke-width="1" />
<line x1="476.2" y1="286.4" x2="476.2" y2="289.4" stroke="#231f20" stroke-width="1" />
<line x1="494.6" y1="286.4" x2="494.6" y2="289.4" stroke="#231f20" stroke-width="1" />
<line x1="513" y1="286.4" x2="513" y2="289.4" stroke="#231f20" stroke-width="1" />
<line x1="399" y1="286.4" x2="402.6" y2="286.4" stroke="#231f20" stroke-width="1" />
<text transform="translate(396.7,289.15)" text-anchor="end" style="font-size:7.9px;" fill="#000" stroke="#000" stroke-width="0.26">0</text>
<line x1="399" y1="273.66" x2="402.6" y2="273.66" stroke="#231f20" stroke-width="1" />
<text transform="translate(396.7,276.41)" text-anchor="end" style="font-size:7.9px;" fill="#000" stroke="#000" stroke-width="0.26">0.2</text>
<line x1="399" y1="260.92" x2="402.6" y2="260.92" stroke="#231f20" stroke-width="1" />
<text transform="translate(396.7,263.67)" text-anchor="end" style="font-size:7.9px;" fill="#000" stroke="#000" stroke-width="0.26">0.4</text>
<line x1="399" y1="248.18" x2="402.6" y2="248.18" stroke="#231f20" stroke-width="1" />
<text transform="translate(396.7,250.93)" text-anchor="end" style="font-size:7.9px;" fill="#000" stroke="#000" stroke-width="0.26">0.6</text>
<line x1="399" y1="235.44" x2="402.6" y2="235.44" stroke="#231f20" stroke-width="1" />
<text transform="translate(396.7,238.19)" text-anchor="end" style="font-size:7.9px;" fill="#000" stroke="#000" stroke-width="0.26">0.8</text>
<line x1="399" y1="222.7" x2="402.6" y2="222.7" stroke="#231f20" stroke-width="1" />
<text transform="translate(396.7,225.45)" text-anchor="end" style="font-size:7.9px;" fill="#000" stroke="#000" stroke-width="0.26">1</text>
<line x1="399" y1="209.96" x2="402.6" y2="209.96" stroke="#231f20" stroke-width="1" />
<text transform="translate(396.7,212.71)" text-anchor="end" style="font-size:7.9px;" fill="#000" stroke="#000" stroke-width="0.26">1.2</text>
<line x1="399" y1="197.22" x2="402.6" y2="197.22" stroke="#231f20" stroke-width="1" />
<text transform="translate(396.7,199.97)" text-anchor="end" style="font-size:7.9px;" fill="#000" stroke="#000" stroke-width="0.26">1.4</text>
<line x1="399" y1="184.48" x2="402.6" y2="184.48" stroke="#231f20" stroke-width="1" />
<text transform="translate(396.7,187.23)" text-anchor="end" style="font-size:7.9px;" fill="#000" stroke="#000" stroke-width="0.26">1.6</text>
<line x1="399" y1="171.74" x2="402.6" y2="171.74" stroke="#231f20" stroke-width="1" />
<text transform="translate(396.7,174.49)" text-anchor="end" style="font-size:7.9px;" fill="#000" stroke="#000" stroke-width="0.26">1.8</text>
<rect x="405.7" y="177.4" width="4.9" height="4.5" fill="#c41230" />
<rect x="405.7" y="185.5" width="4.9" height="4.5" fill="#0e4c80" />
<text transform="translate(412.2,182.3) scale(0.93,1)" text-anchor="start" style="font-size:7.6px;" fill="#000" stroke="#000" stroke-width="0.26">Control</text>
<text transform="translate(412.2,190.3) scale(0.93,1)" text-anchor="start" style="font-size:7.6px;" fill="#000" stroke="#000" stroke-width="0.26">JADE2 kd</text>
<text transform="translate(379.6,227.75) rotate(-90)" text-anchor="middle" style="font-size:8.8px;" fill="#000" textLength="34.3" lengthAdjust="spacingAndGlyphs" stroke="#000" stroke-width="0.42">Fold change</text>
<rect x="195.8" y="331.3" width="151.2" height="131.2" fill="none" stroke="#231f20" stroke-width="1"/>
<rect x="196.3" y="332.72" width="133.82" height="5.9" fill="#c41230" />
<text transform="translate(190.4,338.07)" text-anchor="end" style="font-size:7.45px;" fill="#000" stroke="#000" stroke-width="0.28">Inflammatory response</text>
<rect x="196.3" y="341.47" width="125.15" height="5.9" fill="#c41230" />
<text transform="translate(190.4,346.82)" text-anchor="end" style="font-size:7.45px;" fill="#000" stroke="#000" stroke-width="0.28">Myeloid leukocyte activation</text>
<rect x="196.3" y="350.22" width="114.41" height="5.9" fill="#c41230" />
<text transform="translate(190.4,355.57)" text-anchor="end" style="font-size:7.45px;" fill="#000" stroke="#000" stroke-width="0.28">Positive regulation of multicellular organismal process</text>
<rect x="196.3" y="358.96" width="109.88" height="5.9" fill="#c41230" />
<text transform="translate(190.4,364.31)" text-anchor="end" style="font-size:7.45px;" fill="#000" stroke="#000" stroke-width="0.28">Myeloid leukocyte mediated immunity</text>
<rect x="196.3" y="367.71" width="109.88" height="5.9" fill="#c41230" />
<text transform="translate(190.4,373.06)" text-anchor="end" style="font-size:7.45px;" fill="#000" stroke="#000" stroke-width="0.28">Secretion</text>
<rect x="196.3" y="376.46" width="109.88" height="5.9" fill="#c41230" />
<text transform="translate(190.4,381.81)" text-anchor="end" style="font-size:7.45px;" fill="#000" stroke="#000" stroke-width="0.28">Myeloid cell activation involved in immune response</text>
<rect x="196.3" y="385.2" width="107.81" height="5.9" fill="#c41230" />
<text transform="translate(190.4,390.55)" text-anchor="end" style="font-size:7.45px;" fill="#000" stroke="#000" stroke-width="0.28">Leukocyte activation involved in immune response</text>
<rect x="196.3" y="393.95" width="100.27" height="5.9" fill="#c41230" />
<text transform="translate(190.4,399.3)" text-anchor="end" style="font-size:7.45px;" fill="#000" stroke="#000" stroke-width="0.28">Positive regulation of catalytic activity</text>
<rect x="196.3" y="402.7" width="98.76" height="5.9" fill="#c41230" />
<text transform="translate(190.4,408.05)" text-anchor="end" style="font-size:7.45px;" fill="#000" stroke="#000" stroke-width="0.28">Positive regulation of locomotion</text>
<rect x="196.3" y="411.44" width="98.76" height="5.9" fill="#c41230" />
<text transform="translate(190.4,416.79)" text-anchor="end" style="font-size:7.45px;" fill="#000" stroke="#000" stroke-width="0.28">Regulated exocytosis</text>
<rect x="196.3" y="420.19" width="96.88" height="5.9" fill="#c41230" />
<text transform="translate(190.4,425.54)" text-anchor="end" style="font-size:7.45px;" fill="#000" stroke="#000" stroke-width="0.28">Positive regulation of immune system process</text>
<rect x="196.3" y="428.94" width="95.75" height="5.9" fill="#c41230" />
<text transform="translate(190.4,434.29)" text-anchor="end" style="font-size:7.45px;" fill="#000" stroke="#000" stroke-width="0.28">Response to molecule of bacterial origin</text>
<rect x="196.3" y="437.68" width="91.79" height="5.9" fill="#c41230" />
<text transform="translate(190.4,443.03)" text-anchor="end" style="font-size:7.45px;" fill="#000" stroke="#000" stroke-width="0.28">Cytokine metabolic process</text>
<rect x="196.3" y="446.43" width="89.71" height="5.9" fill="#c41230" />
<text transform="translate(190.4,451.78)" text-anchor="end" style="font-size:7.45px;" fill="#000" stroke="#000" stroke-width="0.28">Neutrophil degranulation</text>
<rect x="196.3" y="455.18" width="87.83" height="5.9" fill="#c41230" />
<text transform="translate(190.4,460.53)" text-anchor="end" style="font-size:7.45px;" fill="#000" stroke="#000" stroke-width="0.28">Cell migration</text>
<line x1="193" y1="331.3" x2="195.8" y2="331.3" stroke="#231f20" stroke-width="1" />
<line x1="193" y1="340.05" x2="195.8" y2="340.05" stroke="#231f20" stroke-width="1" />
<line x1="193" y1="348.79" x2="195.8" y2="348.79" stroke="#231f20" stroke-width="1" />
<line x1="193" y1="357.54" x2="195.8" y2="357.54" stroke="#231f20" stroke-width="1" />
<line x1="193" y1="366.29" x2="195.8" y2="366.29" stroke="#231f20" stroke-width="1" />
<line x1="193" y1="375.03" x2="195.8" y2="375.03" stroke="#231f20" stroke-width="1" />
<line x1="193" y1="383.78" x2="195.8" y2="383.78" stroke="#231f20" stroke-width="1" />
<line x1="193" y1="392.53" x2="195.8" y2="392.53" stroke="#231f20" stroke-width="1" />
<line x1="193" y1="401.27" x2="195.8" y2="401.27" stroke="#231f20" stroke-width="1" />
<line x1="193" y1="410.02" x2="195.8" y2="410.02" stroke="#231f20" stroke-width="1" />
<line x1="193" y1="418.77" x2="195.8" y2="418.77" stroke="#231f20" stroke-width="1" />
<line x1="193" y1="427.51" x2="195.8" y2="427.51" stroke="#231f20" stroke-width="1" />
<line x1="193" y1="436.26" x2="195.8" y2="436.26" stroke="#231f20" stroke-width="1" />
<line x1="193" y1="445.01" x2="195.8" y2="445.01" stroke="#231f20" stroke-width="1" />
<line x1="193" y1="453.75" x2="195.8" y2="453.75" stroke="#231f20" stroke-width="1" />
<line x1="193" y1="462.5" x2="195.8" y2="462.5" stroke="#231f20" stroke-width="1" />
<line x1="196.1" y1="462.5" x2="196.1" y2="465.5" stroke="#231f20" stroke-width="1" />
<text transform="translate(196.1,473.4)" text-anchor="middle" style="font-size:7.4px;" fill="#000" stroke="#000" stroke-width="0.26">0</text>
<line x1="214.95" y1="462.5" x2="214.95" y2="465.5" stroke="#231f20" stroke-width="1" />
<text transform="translate(214.95,473.4)" text-anchor="middle" style="font-size:7.4px;" fill="#000" stroke="#000" stroke-width="0.26">1</text>
<line x1="233.8" y1="462.5" x2="233.8" y2="465.5" stroke="#231f20" stroke-width="1" />
<text transform="translate(233.8,473.4)" text-anchor="middle" style="font-size:7.4px;" fill="#000" stroke="#000" stroke-width="0.26">2</text>
<line x1="252.65" y1="462.5" x2="252.65" y2="465.5" stroke="#231f20" stroke-width="1" />
<text transform="translate(252.65,473.4)" text-anchor="middle" style="font-size:7.4px;" fill="#000" stroke="#000" stroke-width="0.26">3</text>
<line x1="271.5" y1="462.5" x2="271.5" y2="465.5" stroke="#231f20" stroke-width="1" />
<text transform="translate(271.5,473.4)" text-anchor="middle" style="font-size:7.4px;" fill="#000" stroke="#000" stroke-width="0.26">4</text>
<line x1="290.35" y1="462.5" x2="290.35" y2="465.5" stroke="#231f20" stroke-width="1" />
<text transform="translate(290.35,473.4)" text-anchor="middle" style="font-size:7.4px;" fill="#000" stroke="#000" stroke-width="0.26">5</text>
<line x1="309.2" y1="462.5" x2="309.2" y2="465.5" stroke="#231f20" stroke-width="1" />
<text transform="translate(309.2,473.4)" text-anchor="middle" style="font-size:7.4px;" fill="#000" stroke="#000" stroke-width="0.26">6</text>
<line x1="328.05" y1="462.5" x2="328.05" y2="465.5" stroke="#231f20" stroke-width="1" />
<text transform="translate(328.05,473.4)" text-anchor="middle" style="font-size:7.4px;" fill="#000" stroke="#000" stroke-width="0.26">7</text>
<line x1="346.9" y1="462.5" x2="346.9" y2="465.5" stroke="#231f20" stroke-width="1" />
<text transform="translate(346.9,473.4)" text-anchor="middle" style="font-size:7.4px;" fill="#000" stroke="#000" stroke-width="0.26">8</text>
<text transform="translate(270,483.6)" text-anchor="middle" style="font-size:8.4px;" fill="#000" textLength="72" lengthAdjust="spacingAndGlyphs" stroke="#000" stroke-width="0.26">−log<tspan dy="2.4" font-size="4.8">10</tspan><tspan dy="-2.4"> (adjusted </tspan><tspan font-style="italic">P</tspan>-value)</text>
<rect x="45.16" y="548.08" width="5.3" height="53.12" fill="#c41230" />
<text transform="translate(50.01,541.1) rotate(-90) scale(1.11,1)" text-anchor="start" style="font-size:6.4px;font-style:italic;" fill="#000" stroke="#000" stroke-width="0.16">C5AR1</text>
<rect x="53.38" y="554.51" width="5.3" height="46.69" fill="#c41230" />
<text transform="translate(58.23,541.1) rotate(-90) scale(1.11,1)" text-anchor="start" style="font-size:6.4px;font-style:italic;" fill="#000" stroke="#000" stroke-width="0.16">MMP9</text>
<rect x="61.6" y="556.2" width="5.3" height="45" fill="#c41230" />
<text transform="translate(66.45,541.1) rotate(-90) scale(1.11,1)" text-anchor="start" style="font-size:6.4px;font-style:italic;" fill="#000" stroke="#000" stroke-width="0.16">S100A9</text>
<rect x="69.81" y="562.2" width="5.3" height="39" fill="#c41230" />
<text transform="translate(74.66,541.1) rotate(-90) scale(1.11,1)" text-anchor="start" style="font-size:6.4px;font-style:italic;" fill="#000" stroke="#000" stroke-width="0.16">FCGR2A</text>
<rect x="78.03" y="564.01" width="5.3" height="37.19" fill="#c41230" />
<text transform="translate(82.88,541.1) rotate(-90) scale(1.11,1)" text-anchor="start" style="font-size:6.4px;font-style:italic;" fill="#000" stroke="#000" stroke-width="0.16">CRISPLD2</text>
<rect x="86.25" y="566.7" width="5.3" height="34.5" fill="#c41230" />
<text transform="translate(91.1,541.1) rotate(-90) scale(1.11,1)" text-anchor="start" style="font-size:6.4px;font-style:italic;" fill="#000" stroke="#000" stroke-width="0.16">NCF2</text>
<rect x="94.47" y="567.39" width="5.3" height="33.81" fill="#c41230" />
<text transform="translate(99.32,541.1) rotate(-90) scale(1.11,1)" text-anchor="start" style="font-size:6.4px;font-style:italic;" fill="#000" stroke="#000" stroke-width="0.16">NLRP12</text>
<rect x="102.69" y="569.2" width="5.3" height="32" fill="#c41230" />
<text transform="translate(107.54,541.1) rotate(-90) scale(1.11,1)" text-anchor="start" style="font-size:6.4px;font-style:italic;" fill="#000" stroke="#000" stroke-width="0.16">ALOX5AP</text>
<rect x="110.91" y="569.51" width="5.3" height="31.69" fill="#c41230" />
<text transform="translate(115.76,541.1) rotate(-90) scale(1.11,1)" text-anchor="start" style="font-size:6.4px;font-style:italic;" fill="#000" stroke="#000" stroke-width="0.16">ITGAM</text>
<rect x="119.13" y="571.39" width="5.3" height="29.81" fill="#c41230" />
<text transform="translate(123.98,541.1) rotate(-90) scale(1.11,1)" text-anchor="start" style="font-size:6.4px;font-style:italic;" fill="#000" stroke="#000" stroke-width="0.16">TLR1</text>
<rect x="127.34" y="575.7" width="5.3" height="25.5" fill="#c41230" />
<text transform="translate(132.19,541.1) rotate(-90) scale(1.11,1)" text-anchor="start" style="font-size:6.4px;font-style:italic;" fill="#000" stroke="#000" stroke-width="0.16">IL13RA1</text>
<rect x="135.56" y="576.83" width="5.3" height="24.38" fill="#c41230" />
<text transform="translate(140.41,541.1) rotate(-90) scale(1.11,1)" text-anchor="start" style="font-size:6.4px;font-style:italic;" fill="#000" stroke="#000" stroke-width="0.16">PIK3R5</text>
<rect x="143.78" y="577.01" width="5.3" height="24.19" fill="#c41230" />
<text transform="translate(148.63,541.1) rotate(-90) scale(1.11,1)" text-anchor="start" style="font-size:6.4px;font-style:italic;" fill="#000" stroke="#000" stroke-width="0.16">TGFBR2</text>
<rect x="152" y="577.83" width="5.3" height="23.38" fill="#c41230" />
<text transform="translate(156.85,541.1) rotate(-90) scale(1.11,1)" text-anchor="start" style="font-size:6.4px;font-style:italic;" fill="#000" stroke="#000" stroke-width="0.16">ICAM1</text>
<rect x="160.22" y="578.01" width="5.3" height="23.19" fill="#c41230" />
<text transform="translate(165.07,541.1) rotate(-90) scale(1.11,1)" text-anchor="start" style="font-size:6.4px;font-style:italic;" fill="#000" stroke="#000" stroke-width="0.16">BTG2</text>
<rect x="168.44" y="578.89" width="5.3" height="22.31" fill="#c41230" />
<text transform="translate(173.29,541.1) rotate(-90) scale(1.11,1)" text-anchor="start" style="font-size:6.4px;font-style:italic;" fill="#000" stroke="#000" stroke-width="0.16">EMR1</text>
<rect x="176.66" y="579.51" width="5.3" height="21.69" fill="#c41230" />
<text transform="translate(181.51,541.1) rotate(-90) scale(1.11,1)" text-anchor="start" style="font-size:6.4px;font-style:italic;" fill="#000" stroke="#000" stroke-width="0.16">KIAA0513</text>
<rect x="184.87" y="580.39" width="5.3" height="20.81" fill="#c41230" />
<text transform="translate(189.72,541.1) rotate(-90) scale(1.11,1)" text-anchor="start" style="font-size:6.4px;font-style:italic;" fill="#000" stroke="#000" stroke-width="0.16">C10ORF54</text>
<rect x="193.09" y="581.83" width="5.3" height="19.38" fill="#c41230" />
<text transform="translate(197.94,541.1) rotate(-90) scale(1.11,1)" text-anchor="start" style="font-size:6.4px;font-style:italic;" fill="#000" stroke="#000" stroke-width="0.16">THBD</text>
<rect x="201.31" y="582.08" width="5.3" height="19.12" fill="#c41230" />
<text transform="translate(206.16,541.1) rotate(-90) scale(1.11,1)" text-anchor="start" style="font-size:6.4px;font-style:italic;" fill="#000" stroke="#000" stroke-width="0.16">IL1RAP</text>
<rect x="209.53" y="583.01" width="5.3" height="18.19" fill="#c41230" />
<text transform="translate(214.38,541.1) rotate(-90) scale(1.11,1)" text-anchor="start" style="font-size:6.4px;font-style:italic;" fill="#000" stroke="#000" stroke-width="0.16">HMOX1</text>
<rect x="217.75" y="584.7" width="5.3" height="16.5" fill="#c41230" />
<text transform="translate(222.6,541.1) rotate(-90) scale(1.11,1)" text-anchor="start" style="font-size:6.4px;font-style:italic;" fill="#000" stroke="#000" stroke-width="0.16">SLC12A6</text>
<rect x="225.97" y="585.08" width="5.3" height="16.12" fill="#c41230" />
<text transform="translate(230.82,541.1) rotate(-90) scale(1.11,1)" text-anchor="start" style="font-size:6.4px;font-style:italic;" fill="#000" stroke="#000" stroke-width="0.16">RAB8B</text>
<rect x="234.19" y="585.58" width="5.3" height="15.62" fill="#c41230" />
<text transform="translate(239.04,541.1) rotate(-90) scale(1.11,1)" text-anchor="start" style="font-size:6.4px;font-style:italic;" fill="#000" stroke="#000" stroke-width="0.16">SIGLEC7</text>
<rect x="242.4" y="586.08" width="5.3" height="15.12" fill="#c41230" />
<text transform="translate(247.25,541.1) rotate(-90) scale(1.11,1)" text-anchor="start" style="font-size:6.4px;font-style:italic;" fill="#000" stroke="#000" stroke-width="0.16">SLC43A2</text>
<rect x="250.62" y="586.08" width="5.3" height="15.12" fill="#c41230" />
<text transform="translate(255.47,541.1) rotate(-90) scale(1.11,1)" text-anchor="start" style="font-size:6.4px;font-style:italic;" fill="#000" stroke="#000" stroke-width="0.16">GPR84</text>
<rect x="258.84" y="587.01" width="5.3" height="14.19" fill="#c41230" />
<text transform="translate(263.69,541.1) rotate(-90) scale(1.11,1)" text-anchor="start" style="font-size:6.4px;font-style:italic;" fill="#000" stroke="#000" stroke-width="0.16">GRN</text>
<rect x="267.06" y="589.51" width="5.3" height="11.69" fill="#c41230" />
<text transform="translate(271.91,541.1) rotate(-90) scale(1.11,1)" text-anchor="start" style="font-size:6.4px;font-style:italic;" fill="#000" stroke="#000" stroke-width="0.16">EVI5</text>
<rect x="275.28" y="589.89" width="5.3" height="11.31" fill="#c41230" />
<text transform="translate(280.13,541.1) rotate(-90) scale(1.11,1)" text-anchor="start" style="font-size:6.4px;font-style:italic;" fill="#000" stroke="#000" stroke-width="0.16">FOSL2</text>
<rect x="283.5" y="589.89" width="5.3" height="11.31" fill="#c41230" />
<text transform="translate(288.35,541.1) rotate(-90) scale(1.11,1)" text-anchor="start" style="font-size:6.4px;font-style:italic;" fill="#000" stroke="#000" stroke-width="0.16">FOS</text>
<rect x="291.71" y="591.14" width="5.3" height="10.06" fill="#c41230" />
<text transform="translate(296.56,541.1) rotate(-90) scale(1.11,1)" text-anchor="start" style="font-size:6.4px;font-style:italic;" fill="#000" stroke="#000" stroke-width="0.16">MILR1</text>
<rect x="299.93" y="591.39" width="5.3" height="9.81" fill="#c41230" />
<text transform="translate(304.78,541.1) rotate(-90) scale(1.11,1)" text-anchor="start" style="font-size:6.4px;font-style:italic;" fill="#000" stroke="#000" stroke-width="0.16">PCMTD1</text>
<rect x="308.15" y="591.83" width="5.3" height="9.38" fill="#c41230" />
<text transform="translate(313,541.1) rotate(-90) scale(1.11,1)" text-anchor="start" style="font-size:6.4px;font-style:italic;" fill="#000" stroke="#000" stroke-width="0.16">PIK3AP1</text>
<rect x="316.37" y="592.51" width="5.3" height="8.69" fill="#c41230" />
<text transform="translate(321.22,541.1) rotate(-90) scale(1.11,1)" text-anchor="start" style="font-size:6.4px;font-style:italic;" fill="#000" stroke="#000" stroke-width="0.16">IL1B</text>
<rect x="324.59" y="595.01" width="5.3" height="6.19" fill="#c41230" />
<text transform="translate(329.44,541.1) rotate(-90) scale(1.11,1)" text-anchor="start" style="font-size:6.4px;font-style:italic;" fill="#000" stroke="#000" stroke-width="0.16">OSGIN1</text>
<rect x="332.81" y="595.2" width="5.3" height="6" fill="#0e4c80" />
<text transform="translate(337.66,541.1) rotate(-90) scale(1.11,1)" text-anchor="start" style="font-size:6.4px;font-style:italic;" fill="#000" stroke="#000" stroke-width="0.16">NEK7</text>
<rect x="341.03" y="595.89" width="5.3" height="5.31" fill="#0e4c80" />
<text transform="translate(345.88,541.1) rotate(-90) scale(1.11,1)" text-anchor="start" style="font-size:6.4px;font-style:italic;" fill="#000" stroke="#000" stroke-width="0.16">GALNT3</text>
<rect x="349.24" y="596.64" width="5.3" height="4.56" fill="#0e4c80" />
<text transform="translate(354.09,541.1) rotate(-90) scale(1.11,1)" text-anchor="start" style="font-size:6.4px;font-style:italic;" fill="#000" stroke="#000" stroke-width="0.16">GLIPR1</text>
<rect x="357.46" y="597.33" width="5.3" height="3.88" fill="#0e4c80" />
<text transform="translate(362.31,541.1) rotate(-90) scale(1.11,1)" text-anchor="start" style="font-size:6.4px;font-style:italic;" fill="#000" stroke="#000" stroke-width="0.16">IRAK2</text>
<rect x="365.68" y="598.01" width="5.3" height="3.19" fill="#0e4c80" />
<text transform="translate(370.53,541.1) rotate(-90) scale(1.11,1)" text-anchor="start" style="font-size:6.4px;font-style:italic;" fill="#000" stroke="#000" stroke-width="0.16">MMP14</text>
<rect x="373.9" y="598.7" width="5.3" height="2.5" fill="#0e4c80" />
<text transform="translate(378.75,541.1) rotate(-90) scale(1.11,1)" text-anchor="start" style="font-size:6.4px;font-style:italic;" fill="#000" stroke="#000" stroke-width="0.16">DRAM1</text>
<rect x="382.12" y="599.14" width="5.3" height="2.06" fill="#0e4c80" />
<text transform="translate(386.97,541.1) rotate(-90) scale(1.11,1)" text-anchor="start" style="font-size:6.4px;font-style:italic;" fill="#000" stroke="#000" stroke-width="0.16">SERPINE1</text>
<rect x="390.34" y="599.51" width="5.3" height="1.69" fill="#0e4c80" />
<text transform="translate(395.19,541.1) rotate(-90) scale(1.11,1)" text-anchor="start" style="font-size:6.4px;font-style:italic;" fill="#000" stroke="#000" stroke-width="0.16">PERP</text>
<rect x="398.56" y="600.89" width="5.3" height="0.31" fill="#0e4c80" />
<text transform="translate(403.41,541.1) rotate(-90) scale(1.11,1)" text-anchor="start" style="font-size:6.4px;font-style:italic;" fill="#000" stroke="#000" stroke-width="0.16">DNAJB9</text>
<rect x="406.77" y="601.2" width="5.3" height="0.62" fill="#0e4c80" />
<text transform="translate(411.62,541.1) rotate(-90) scale(1.11,1)" text-anchor="start" style="font-size:6.4px;font-style:italic;" fill="#000" stroke="#000" stroke-width="0.16">MS4A6A</text>
<rect x="414.99" y="601.2" width="5.3" height="0.62" fill="#0e4c80" />
<text transform="translate(419.84,541.1) rotate(-90) scale(1.11,1)" text-anchor="start" style="font-size:6.4px;font-style:italic;" fill="#000" stroke="#000" stroke-width="0.16">CSF1R</text>
<rect x="423.21" y="601.2" width="5.3" height="4.38" fill="#0e4c80" />
<text transform="translate(428.06,541.1) rotate(-90) scale(1.11,1)" text-anchor="start" style="font-size:6.4px;font-style:italic;" fill="#000" stroke="#000" stroke-width="0.16">KLF4</text>
<rect x="431.43" y="601.2" width="5.3" height="4.88" fill="#0e4c80" />
<text transform="translate(436.28,541.1) rotate(-90) scale(1.11,1)" text-anchor="start" style="font-size:6.4px;font-style:italic;" fill="#000" stroke="#000" stroke-width="0.16">SH3TC1</text>
<rect x="439.65" y="601.2" width="5.3" height="11.25" fill="#0e4c80" />
<text transform="translate(444.5,541.1) rotate(-90) scale(1.11,1)" text-anchor="start" style="font-size:6.4px;font-style:italic;" fill="#000" stroke="#000" stroke-width="0.16">CREG1</text>
<rect x="447.87" y="601.2" width="5.3" height="12.5" fill="#0e4c80" />
<text transform="translate(452.72,541.1) rotate(-90) scale(1.11,1)" text-anchor="start" style="font-size:6.4px;font-style:italic;" fill="#000" stroke="#000" stroke-width="0.16">RNF125</text>
<rect x="456.09" y="601.2" width="5.3" height="15" fill="#0e4c80" />
<text transform="translate(460.94,541.1) rotate(-90) scale(1.11,1)" text-anchor="start" style="font-size:6.4px;font-style:italic;" fill="#000" stroke="#000" stroke-width="0.16">LAMC1</text>
<rect x="464.3" y="601.2" width="5.3" height="15.31" fill="#0e4c80" />
<text transform="translate(469.15,541.1) rotate(-90) scale(1.11,1)" text-anchor="start" style="font-size:6.4px;font-style:italic;" fill="#000" stroke="#000" stroke-width="0.16">GCNT2</text>
<rect x="472.52" y="601.2" width="5.3" height="25.31" fill="#0e4c80" />
<text transform="translate(477.37,541.1) rotate(-90) scale(1.11,1)" text-anchor="start" style="font-size:6.4px;font-style:italic;" fill="#000" stroke="#000" stroke-width="0.16">CYTL1</text>
<rect x="480.74" y="601.2" width="5.3" height="33.12" fill="#0e4c80" />
<text transform="translate(485.59,541.1) rotate(-90) scale(1.11,1)" text-anchor="start" style="font-size:6.4px;font-style:italic;" fill="#000" stroke="#000" stroke-width="0.16">IRF8</text>
<line x1="43.7" y1="601.2" x2="487.5" y2="601.2" stroke="#8fb6d6" stroke-width="0.8" />
<line x1="44.7" y1="594.9" x2="487.5" y2="594.9" stroke="#555" stroke-width="1" stroke-dasharray="1.8,1.8"/>
<rect x="43.7" y="544.7" width="443.8" height="93.8" fill="none" stroke="#231f20" stroke-width="1.1"/>
<rect x="43.4" y="500.5" width="288.1" height="41.4" fill="none" stroke="#333" stroke-width="0.9"/>
<line x1="40.3" y1="638.7" x2="43.7" y2="638.7" stroke="#231f20" stroke-width="1" />
<text transform="translate(37.4,641.1) scale(0.85,1)" text-anchor="end" style="font-size:6.8px;" fill="#000" stroke="#000" stroke-width="0.2">−6</text>
<line x1="40.3" y1="632.45" x2="43.7" y2="632.45" stroke="#231f20" stroke-width="1" />
<text transform="translate(37.4,634.85) scale(0.85,1)" text-anchor="end" style="font-size:6.8px;" fill="#000" stroke="#000" stroke-width="0.2">−5</text>
<line x1="40.3" y1="626.2" x2="43.7" y2="626.2" stroke="#231f20" stroke-width="1" />
<text transform="translate(37.4,628.6) scale(0.85,1)" text-anchor="end" style="font-size:6.8px;" fill="#000" stroke="#000" stroke-width="0.2">−4</text>
<line x1="40.3" y1="619.95" x2="43.7" y2="619.95" stroke="#231f20" stroke-width="1" />
<text transform="translate(37.4,622.35) scale(0.85,1)" text-anchor="end" style="font-size:6.8px;" fill="#000" stroke="#000" stroke-width="0.2">−3</text>
<line x1="40.3" y1="613.7" x2="43.7" y2="613.7" stroke="#231f20" stroke-width="1" />
<text transform="translate(37.4,616.1) scale(0.85,1)" text-anchor="end" style="font-size:6.8px;" fill="#000" stroke="#000" stroke-width="0.2">−2</text>
<line x1="40.3" y1="607.45" x2="43.7" y2="607.45" stroke="#231f20" stroke-width="1" />
<text transform="translate(37.4,609.85) scale(0.85,1)" text-anchor="end" style="font-size:6.8px;" fill="#000" stroke="#000" stroke-width="0.2">−1</text>
<line x1="40.3" y1="601.2" x2="43.7" y2="601.2" stroke="#231f20" stroke-width="1" />
<text transform="translate(37.4,603.6) scale(0.85,1)" text-anchor="end" style="font-size:6.8px;" fill="#000" stroke="#000" stroke-width="0.2">0</text>
<line x1="40.3" y1="594.95" x2="43.7" y2="594.95" stroke="#231f20" stroke-width="1" />
<text transform="translate(37.4,597.35) scale(0.85,1)" text-anchor="end" style="font-size:6.8px;" fill="#000" stroke="#000" stroke-width="0.2">1</text>
<line x1="40.3" y1="588.7" x2="43.7" y2="588.7" stroke="#231f20" stroke-width="1" />
<text transform="translate(37.4,591.1) scale(0.85,1)" text-anchor="end" style="font-size:6.8px;" fill="#000" stroke="#000" stroke-width="0.2">2</text>
<line x1="40.3" y1="582.45" x2="43.7" y2="582.45" stroke="#231f20" stroke-width="1" />
<text transform="translate(37.4,584.85) scale(0.85,1)" text-anchor="end" style="font-size:6.8px;" fill="#000" stroke="#000" stroke-width="0.2">3</text>
<line x1="40.3" y1="576.2" x2="43.7" y2="576.2" stroke="#231f20" stroke-width="1" />
<text transform="translate(37.4,578.6) scale(0.85,1)" text-anchor="end" style="font-size:6.8px;" fill="#000" stroke="#000" stroke-width="0.2">4</text>
<line x1="40.3" y1="569.95" x2="43.7" y2="569.95" stroke="#231f20" stroke-width="1" />
<text transform="translate(37.4,572.35) scale(0.85,1)" text-anchor="end" style="font-size:6.8px;" fill="#000" stroke="#000" stroke-width="0.2">5</text>
<line x1="40.3" y1="563.7" x2="43.7" y2="563.7" stroke="#231f20" stroke-width="1" />
<text transform="translate(37.4,566.1) scale(0.85,1)" text-anchor="end" style="font-size:6.8px;" fill="#000" stroke="#000" stroke-width="0.2">6</text>
<line x1="40.3" y1="557.45" x2="43.7" y2="557.45" stroke="#231f20" stroke-width="1" />
<text transform="translate(37.4,559.85) scale(0.85,1)" text-anchor="end" style="font-size:6.8px;" fill="#000" stroke="#000" stroke-width="0.2">7</text>
<line x1="40.3" y1="551.2" x2="43.7" y2="551.2" stroke="#231f20" stroke-width="1" />
<text transform="translate(37.4,553.6) scale(0.85,1)" text-anchor="end" style="font-size:6.8px;" fill="#000" stroke="#000" stroke-width="0.2">8</text>
<line x1="40.3" y1="544.95" x2="43.7" y2="544.95" stroke="#231f20" stroke-width="1" />
<text transform="translate(37.4,547.35) scale(0.85,1)" text-anchor="end" style="font-size:6.8px;" fill="#000" stroke="#000" stroke-width="0.2">9</text>
<text transform="translate(23.6,591.7) rotate(-90)" text-anchor="middle" style="font-size:8.6px;" fill="#000" textLength="54.7" lengthAdjust="spacingAndGlyphs" stroke="#000" stroke-width="0.42">PMN/GMP (log<tspan baseline-shift="sub" font-size="5">2</tspan> fc)</text>
<rect x="0.5" y="0.5" width="519" height="647" fill="none" stroke="#000" stroke-width="1"/>
</svg>
</body></html>
